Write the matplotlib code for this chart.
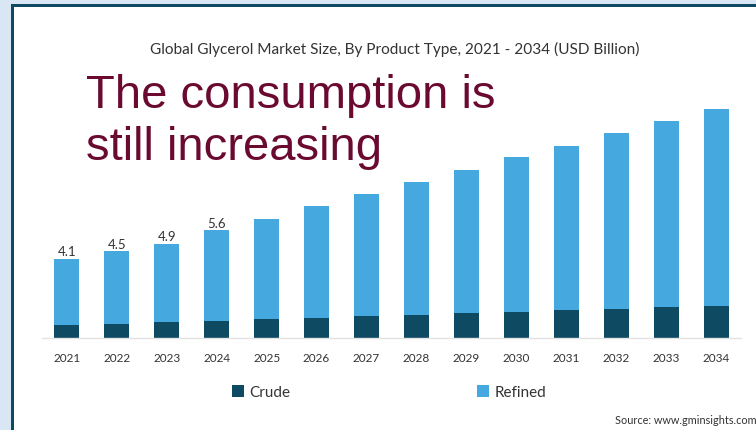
import numpy as np
import matplotlib.pyplot as plt
from matplotlib.patches import Rectangle, Patch

years = [str(y) for y in range(2021, 2035)]
total = [4.1, 4.5, 4.9, 5.6, 6.2, 6.85, 7.5, 8.1, 8.75, 9.4, 10.0, 10.65, 11.3, 11.9]
crude = [0.65, 0.73, 0.80, 0.87, 0.97, 1.03, 1.11, 1.18, 1.29, 1.32, 1.44, 1.49, 1.58, 1.65]
labelled = 4  # only the first years carry a value label

refined = [t - c for t, c in zip(total, crude)]

crude_col = "#0e4a62"
refined_col = "#45a8de"
plt.rcParams['font.family'] = ['Lato', 'DejaVu Sans']

fig = plt.figure(figsize=(7.56, 4.31), dpi=100)
fig.patch.set_facecolor("#d8e7f3")

# white card with dark edge on the left and top
W, H = 756, 431
fig.patches.append(Rectangle((11 / W, 0), 1, (H - 5) / H, transform=fig.transFigure,
                             facecolor=crude_col, edgecolor="none", zorder=-10))
fig.patches.append(Rectangle((14 / W, 0), 1, (H - 8) / H, transform=fig.transFigure,
                             facecolor="white", edgecolor="none", zorder=-9))

ax = fig.add_axes([42 / W, (H - 338.7) / H, 699 / W, 240 / H])
ax.set_facecolor("none")
x = np.arange(len(years))
ax.bar(x, crude, width=0.5, color=crude_col, zorder=2)
ax.bar(x, refined, width=0.5, bottom=crude, color=refined_col, zorder=2)

for i in range(labelled):
    ax.text(x[i], total[i] + 0.08, f"{total[i]:.1f}", ha="center", va="bottom",
            fontsize=9.5, color="#333333")

ax.set_xlim(-0.5, len(years) - 0.5)
ax.set_ylim(0, 12.5)
ax.set_xticks(x)
ax.set_xticklabels(years, fontsize=8.5, color="#333333")
ax.tick_params(axis="x", length=0, pad=10)
ax.set_yticks([])
for s in ["top", "right", "left"]:
    ax.spines[s].set_visible(False)
ax.spines["bottom"].set_color("#e3e3e3")
ax.spines["bottom"].set_linewidth(1)

fig.text(395 / W, 1 - 49 / H, "Global Glycerol Market Size, By Product Type, 2021 - 2034 (USD Billion)",
         ha="center", va="center", fontsize=11.1, color="#333333")

fig.text(86 / W, 1 - 160 / H, "The consumption is\nstill increasing", ha="left", va="baseline",
         fontsize=34, color="#6b0a30", family=["Liberation Sans", "DejaVu Sans"],
         linespacing=1.25)

handles = [Patch(facecolor=crude_col, label="Crude"),
           Patch(facecolor=refined_col, label="Refined")]
fig.legend(handles=handles, loc="center left", bbox_to_anchor=(218 / W, 1 - 393 / H),
           ncol=2, frameon=False, fontsize=11, handlelength=0.8, handleheight=0.8,
           handletextpad=0.35, columnspacing=12.2, labelcolor="#333333")

fig.text(757 / W, 1 - 421 / H, "Source: www.gminsights.com", ha="right", va="center",
         fontsize=7.8, color="#333333")

fig.savefig("out.png", dpi=100, facecolor=fig.get_facecolor())
